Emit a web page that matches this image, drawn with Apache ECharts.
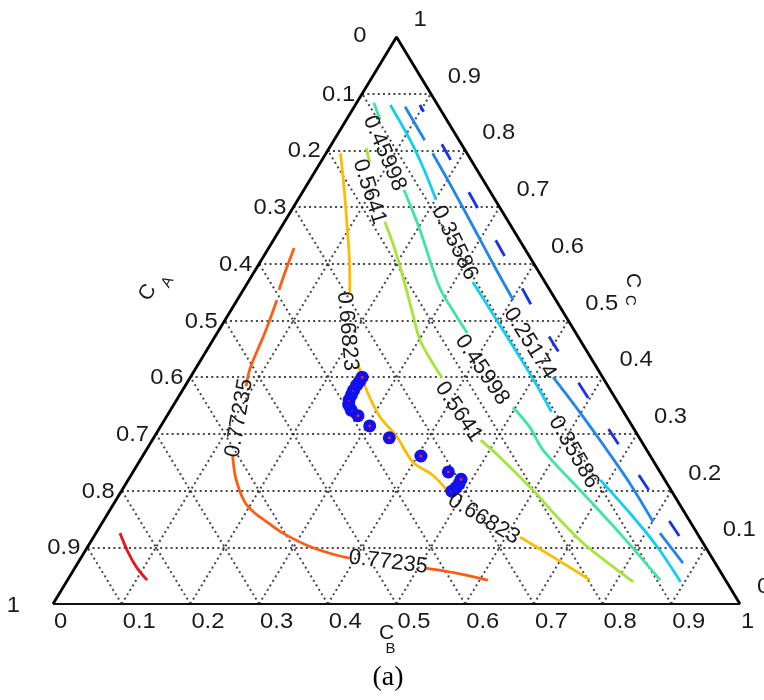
<!DOCTYPE html>
<html>
<head>
<meta charset="utf-8">
<script src="https://cdn.jsdelivr.net/npm/echarts/dist/echarts.min.js"></script>
<style>
html,body{margin:0;padding:0;background:#fff;}
#chart{width:764px;height:700px;}
</style>
</head>
<body>
<div id="chart"></div>
<script>
// ---------------- DATA (ternary compositions [C_B, C_C]) ----------------
const tickValues = [0, 0.1, 0.2, 0.3, 0.4, 0.5, 0.6, 0.7, 0.8, 0.9, 1];
const tickLabels = ['0', '0.1', '0.2', '0.3', '0.4', '0.5', '0.6', '0.7', '0.8', '0.9', '1'];
const gridSteps = [0.1, 0.2, 0.3, 0.4, 0.5, 0.6, 0.7, 0.8, 0.9];

const contourLevels = ['0.87647', '0.77235', '0.66823', '0.5641', '0.45998', '0.35586', '0.25174', '0.14762'];

const contour087647 = [
  [[0.035, 0.125], [0.063, 0.092], [0.089, 0.065], [0.116, 0.042]]
];
const contour077235 = [
  [[0.037, 0.628], [0.045, 0.586], [0.052, 0.554]],
  [[0.058, 0.536], [0.069, 0.480], [0.079, 0.416], [0.089, 0.384]],
  [[0.130, 0.263], [0.155, 0.222], [0.189, 0.180], [0.214, 0.160], [0.242, 0.143], [0.272, 0.125], [0.324, 0.101], [0.370, 0.086], [0.391, 0.081]],
  [[0.512, 0.063], [0.558, 0.055], [0.612, 0.042]]
];
const contour066823 = [
  [[0.021, 0.795], [0.059, 0.730], [0.094, 0.668], [0.128, 0.607], [0.157, 0.550]],
  [[0.231, 0.425], [0.268, 0.377], [0.311, 0.330], [0.353, 0.295], [0.399, 0.250], [0.438, 0.228], [0.473, 0.201]],
  [[0.621, 0.118], [0.690, 0.081], [0.761, 0.042]]
];
const contour05641 = [
  [[0.054, 0.804], [0.072, 0.778]],
  [[0.146, 0.674], [0.186, 0.624], [0.231, 0.563], [0.269, 0.510], [0.301, 0.466], [0.340, 0.425], [0.367, 0.399]],
  [[0.478, 0.289], [0.521, 0.259], [0.598, 0.201], [0.664, 0.148], [0.717, 0.108], [0.777, 0.069], [0.825, 0.039]]
];
const contour045998 = [
  [[0.025, 0.884], [0.049, 0.854]],
  [[0.146, 0.730], [0.204, 0.660], [0.283, 0.559], [0.335, 0.506], [0.364, 0.478]],
  [[0.496, 0.347], [0.538, 0.312], [0.577, 0.272], [0.673, 0.196], [0.771, 0.118], [0.863, 0.042]]
];
const contour035586 = [
  [[0.051, 0.880], [0.111, 0.818], [0.158, 0.765], [0.201, 0.713]],
  [[0.327, 0.568], [0.383, 0.513], [0.454, 0.443], [0.514, 0.383], [0.556, 0.339]],
  [[0.687, 0.219], [0.760, 0.160], [0.829, 0.101], [0.894, 0.039]]
];
const contour025174 = [
  [[0.074, 0.877], [0.132, 0.818]],
  [[0.155, 0.795], [0.214, 0.734], [0.284, 0.660], [0.351, 0.589], [0.402, 0.536]],
  [[0.528, 0.400], [0.599, 0.337], [0.670, 0.272], [0.733, 0.213], [0.801, 0.145]],
  [[0.821, 0.125], [0.881, 0.072]]
];
const contour014762 = [
  [[0.094, 0.880], [0.354, 0.610], [0.498, 0.460], [0.861, 0.111]]
];

// contour label texts (clabel)
const contourLabelTexts = ['0.77235', '0.77235', '0.66823', '0.66823', '0.5641', '0.5641', '0.45998', '0.45998', '0.35586', '0.35586', '0.25174'];

// measured data points (blue circles with red centres), [C_B, C_C]
const pointsB = [0.481, 0.484, 0.485, 0.484, 0.459, 0.405, 0.343, 0.304, 0.278, 0.263, 0.255, 0.251, 0.250, 0.249, 0.249, 0.250, 0.250];
const pointsC = [0.199, 0.205, 0.212, 0.220, 0.233, 0.261, 0.293, 0.314, 0.332, 0.342, 0.351, 0.360, 0.369, 0.377, 0.386, 0.393, 0.400];

// ---------------- PRESENTATION ----------------
const contourSets = [contour087647, contour077235, contour066823, contour05641, contour045998, contour035586, contour025174, contour014762];
const contourColors = ['#e8141e', '#ff5c14', '#f8be00', '#a6e43a', '#3ee6a0', '#12cdf2', '#2286e8', '#1a30ec'];
const contourDashed = [false, false, false, false, false, false, false, true];
// label placement: [C_B, C_C] anchor and rotation (deg)
const contourLabelPlacement = [
  {at: [0.107, 0.328], rot: 80},
  {at: [0.451, 0.074], rot: -7},
  {at: [0.188, 0.481], rot: -85},
  {at: [0.552, 0.150], rot: -31},
  {at: [0.097, 0.727], rot: -72},
  {at: [0.421, 0.339], rot: -56},
  {at: [0.085, 0.795], rot: -67},
  {at: [0.418, 0.413], rot: -56},
  {at: [0.266, 0.637], rot: -64},
  {at: [0.624, 0.268], rot: -60},
  {at: [0.464, 0.460], rot: -58}
];

const FONT = 'Arial, "Liberation Sans", Helvetica, sans-serif';
const TXT = '#1a1a1a';
const STRETCH = 1.08;
const toXY = p => [p[0] + p[1] / 2, p[1]];

const series = [];

// dotted lattice
const gridCoords = [];
gridSteps.forEach(t => {
  gridCoords.push({coords: [toXY([0, t]), toXY([1 - t, t])]});          // C = t
  gridCoords.push({coords: [toXY([t, 0]), toXY([t, 1 - t])]});          // B = t
  gridCoords.push({coords: [toXY([1 - t, 0]), toXY([0, 1 - t])]});      // A = t
});
series.push({
  type: 'lines', coordinateSystem: 'cartesian2d', silent: true, z: 1,
  lineStyle: {color: '#333', width: 2, type: [2, 3.2], opacity: 0.9},
  data: gridCoords
});

// triangle outline
series.push({
  type: 'line', data: [toXY([0, 0]), toXY([0, 1]), toXY([1, 0])], symbol: 'none', clip: false, silent: true, z: 5,
  lineStyle: {color: '#000', width: 2.8}
});
series.push({
  type: 'line', data: [toXY([0, 0]), toXY([1, 0])], symbol: 'none', clip: false, silent: true, z: 5,
  lineStyle: {color: '#111', width: 2}
});

// contours
contourSets.forEach((set, k) => {
  set.forEach(seg => {
    series.push({
      type: 'line', name: contourLevels[k], data: seg.map(toXY), symbol: 'none', smooth: 0.3,
      clip: false, silent: true, z: 3,
      lineStyle: {color: contourColors[k], width: 2.8, type: contourDashed[k] ? [18, 37] : 'solid', dashOffset: contourDashed[k] ? 10 : 0}
    });
  });
});

// data points: each blue circle then its red centre, later points drawn on top
pointsB.forEach((b, i) => {
  const p = toXY([b, pointsC[i]]);
  series.push({type: 'scatter', data: [p], symbol: 'circle', symbolSize: 13, silent: true, z: 10 + 2 * i,
    itemStyle: {color: '#1010f0', opacity: 1}});
  series.push({type: 'scatter', data: [p], symbol: 'circle', symbolSize: 3, silent: true, z: 11 + 2 * i,
    itemStyle: {color: '#ff2020', opacity: 1}});
});

const chart = echarts.init(document.getElementById('chart'), null, {renderer: 'canvas'});
chart.setOption({
  animation: false,
  backgroundColor: '#fff',
  grid: {left: 53, top: 37, width: 687, height: 567},
  xAxis: {type: 'value', min: 0, max: 1, show: false},
  yAxis: {type: 'value', min: 0, max: 1, show: false},
  series: series
});

const px = p => chart.convertToPixel({gridIndex: 0}, toXY(p));
const graphics = [];
function txt(x, y, s, opt) {
  graphics.push({
    type: 'text', x: x, y: y, z: 100, silent: true, scaleX: STRETCH,
    style: Object.assign({text: s, fill: TXT, fontSize: 22, fontFamily: FONT, align: 'center', verticalAlign: 'middle'}, opt || {})
  });
}

// left axis (C_A): labels measured from top (0) to bottom (1)
tickValues.forEach((a, i) => {
  const p = px([0, 1 - a]);
  if (i === 0) txt(p[0] - 30, p[1] - 1, tickLabels[i], {align: 'right'});
  else if (i === tickValues.length - 1) txt(p[0] - 33, p[1] + 2, tickLabels[i], {align: 'right'});
  else txt(p[0] - 7, p[1] + 1, tickLabels[i], {align: 'right'});
});
// bottom axis (C_B)
tickValues.forEach((b, i) => {
  const p = px([b, 0]);
  txt(p[0] + 1, p[1] + 18, tickLabels[i], {align: 'left'});
});
// right axis (C_C)
tickValues.forEach((c, i) => {
  const p = px([1 - c, c]);
  txt(p[0] + 17, p[1] - 17, tickLabels[i], {align: 'left'});
});

// contour labels
contourLabelTexts.forEach((s, i) => {
  const pl = contourLabelPlacement[i];
  const p = px(pl.at);
  graphics.push({
    type: 'text', x: p[0], y: p[1], rotation: pl.rot * Math.PI / 180, z: 50, silent: true,
    style: {text: s, fill: TXT, fontSize: 22, fontFamily: FONT, align: 'center', verticalAlign: 'middle'}
  });
});

// axis titles with subscripts
function title(anchor, rotDeg, main, sub, subOff) {
  graphics.push({
    type: 'group', x: anchor[0], y: anchor[1], rotation: rotDeg * Math.PI / 180, z: 60, silent: true,
    children: [
      {type: 'text', x: 0, y: 0, style: {text: main, fill: TXT, fontSize: 21, fontFamily: FONT, align: 'center', verticalAlign: 'middle'}},
      {type: 'text', x: subOff[0], y: subOff[1], style: {text: sub, fill: TXT, fontSize: 15, fontFamily: FONT, align: 'center', verticalAlign: 'middle'}}
    ]
  });
}
const midLeft = px([0, 0.5]);
title([midLeft[0] - 77, midLeft[1] - 28], 60, 'C', 'A', [19, 12]);
const midBottom = px([0.5, 0]);
title([midBottom[0] - 10, midBottom[1] + 29], 0, 'C', 'B', [4, 16]);
const midRight = px([0.5, 0.5]);
title([midRight[0] + 65, midRight[1] - 40], -90, 'C', 'C', [20, 3]);

// caption
graphics.push({
  type: 'text', x: 388, y: 678, z: 60, silent: true,
  style: {text: '(a)', fill: '#000', fontSize: 28, fontFamily: '"Liberation Serif", "Times New Roman", serif', align: 'center', verticalAlign: 'middle'}
});

chart.setOption({graphic: graphics});
</script>
</body>
</html>
